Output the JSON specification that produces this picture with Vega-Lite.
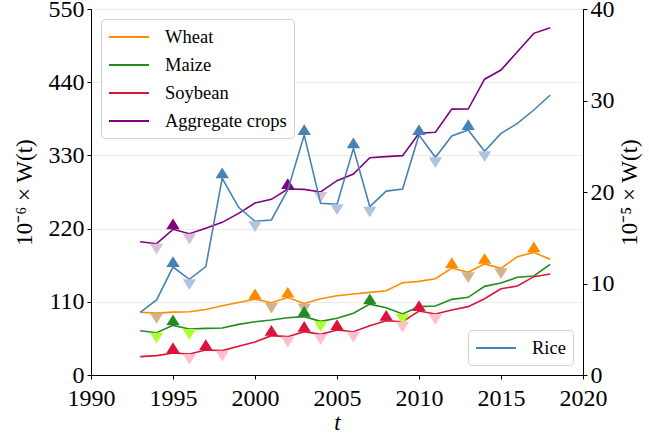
{
  "$schema": "https://vega.github.io/schema/vega-lite/v6.json",
  "width": 492,
  "height": 366,
  "autosize": {"type": "none"},
  "padding": {"left": 91, "top": 9, "right": 66, "bottom": 60},
  "background": "white",
  "config": {
    "font": "Liberation Serif",
    "view": {"stroke": "black", "strokeWidth": 1},
    "axis": {
      "labelFont": "Liberation Serif", "titleFont": "Liberation Serif",
      "labelFontSize": 24, "labelColor": "black",
      "domainColor": "black", "tickColor": "black", "tickSize": 4,
      "titleFontSize": 23, "titleFontWeight": "normal", "titleColor": "black",
      "labelPadding": 3, "labelFlush": false, "labelOverlap": false
    },
    "legend": {
      "labelFont": "Liberation Serif", "labelFontSize": 18.5, "labelColor": "black",
      "symbolType": "M-1,0L3,0", "symbolSize": 400, "symbolStrokeWidth": 2,
      "fillColor": "rgba(255,255,255,0.85)", "strokeColor": "#d0d0d0", "cornerRadius": 4,
      "padding": 7, "offset": 10, "labelOffset": 35, "rowPadding": 7
    }
  },
  "datasets": {
    "left": [
      {"year": 1993, "crop": "Wheat", "value": 94.2, "ext": ""},
      {"year": 1994, "crop": "Wheat", "value": 93.0, "ext": "trough"},
      {"year": 1995, "crop": "Wheat", "value": 94.5, "ext": ""},
      {"year": 1996, "crop": "Wheat", "value": 95.0, "ext": ""},
      {"year": 1997, "crop": "Wheat", "value": 98.5, "ext": ""},
      {"year": 1998, "crop": "Wheat", "value": 104.0, "ext": ""},
      {"year": 1999, "crop": "Wheat", "value": 109.0, "ext": ""},
      {"year": 2000, "crop": "Wheat", "value": 114.0, "ext": "peak"},
      {"year": 2001, "crop": "Wheat", "value": 108.7, "ext": "trough"},
      {"year": 2002, "crop": "Wheat", "value": 116.5, "ext": "peak"},
      {"year": 2003, "crop": "Wheat", "value": 107.5, "ext": "trough"},
      {"year": 2004, "crop": "Wheat", "value": 114.5, "ext": ""},
      {"year": 2005, "crop": "Wheat", "value": 119.0, "ext": ""},
      {"year": 2006, "crop": "Wheat", "value": 121.7, "ext": ""},
      {"year": 2007, "crop": "Wheat", "value": 124.2, "ext": ""},
      {"year": 2008, "crop": "Wheat", "value": 126.7, "ext": ""},
      {"year": 2009, "crop": "Wheat", "value": 138.7, "ext": ""},
      {"year": 2010, "crop": "Wheat", "value": 140.7, "ext": ""},
      {"year": 2011, "crop": "Wheat", "value": 144.7, "ext": ""},
      {"year": 2012, "crop": "Wheat", "value": 160.8, "ext": "peak"},
      {"year": 2013, "crop": "Wheat", "value": 154.3, "ext": "trough"},
      {"year": 2014, "crop": "Wheat", "value": 167.0, "ext": "peak"},
      {"year": 2015, "crop": "Wheat", "value": 160.3, "ext": "trough"},
      {"year": 2016, "crop": "Wheat", "value": 177.8, "ext": ""},
      {"year": 2017, "crop": "Wheat", "value": 184.3, "ext": "peak"},
      {"year": 2018, "crop": "Wheat", "value": 173.8, "ext": ""},

      {"year": 1993, "crop": "Maize", "value": 66.6, "ext": ""},
      {"year": 1994, "crop": "Maize", "value": 63.6, "ext": "trough"},
      {"year": 1995, "crop": "Maize", "value": 74.6, "ext": "peak"},
      {"year": 1996, "crop": "Maize", "value": 69.1, "ext": "trough"},
      {"year": 1997, "crop": "Maize", "value": 70.1, "ext": ""},
      {"year": 1998, "crop": "Maize", "value": 70.6, "ext": ""},
      {"year": 1999, "crop": "Maize", "value": 76.1, "ext": ""},
      {"year": 2000, "crop": "Maize", "value": 80.1, "ext": ""},
      {"year": 2001, "crop": "Maize", "value": 82.6, "ext": ""},
      {"year": 2002, "crop": "Maize", "value": 86.1, "ext": ""},
      {"year": 2003, "crop": "Maize", "value": 87.7, "ext": "peak"},
      {"year": 2004, "crop": "Maize", "value": 80.6, "ext": "trough"},
      {"year": 2005, "crop": "Maize", "value": 85.2, "ext": ""},
      {"year": 2006, "crop": "Maize", "value": 92.7, "ext": ""},
      {"year": 2007, "crop": "Maize", "value": 106.5, "ext": "peak"},
      {"year": 2008, "crop": "Maize", "value": 101.2, "ext": ""},
      {"year": 2009, "crop": "Maize", "value": 91.7, "ext": "trough"},
      {"year": 2010, "crop": "Maize", "value": 102.7, "ext": ""},
      {"year": 2011, "crop": "Maize", "value": 103.7, "ext": ""},
      {"year": 2012, "crop": "Maize", "value": 113.7, "ext": ""},
      {"year": 2013, "crop": "Maize", "value": 116.7, "ext": ""},
      {"year": 2014, "crop": "Maize", "value": 133.2, "ext": ""},
      {"year": 2015, "crop": "Maize", "value": 138.2, "ext": ""},
      {"year": 2016, "crop": "Maize", "value": 146.8, "ext": ""},
      {"year": 2017, "crop": "Maize", "value": 148.8, "ext": ""},
      {"year": 2018, "crop": "Maize", "value": 166.3, "ext": ""},

      {"year": 1993, "crop": "Soybean", "value": 27.6, "ext": ""},
      {"year": 1994, "crop": "Soybean", "value": 29.1, "ext": ""},
      {"year": 1995, "crop": "Soybean", "value": 33.1, "ext": "peak"},
      {"year": 1996, "crop": "Soybean", "value": 31.6, "ext": "trough"},
      {"year": 1997, "crop": "Soybean", "value": 37.6, "ext": "peak"},
      {"year": 1998, "crop": "Soybean", "value": 36.6, "ext": "trough"},
      {"year": 1999, "crop": "Soybean", "value": 43.1, "ext": ""},
      {"year": 2000, "crop": "Soybean", "value": 49.5, "ext": ""},
      {"year": 2001, "crop": "Soybean", "value": 59.1, "ext": "peak"},
      {"year": 2002, "crop": "Soybean", "value": 57.6, "ext": "trough"},
      {"year": 2003, "crop": "Soybean", "value": 65.1, "ext": "peak"},
      {"year": 2004, "crop": "Soybean", "value": 61.1, "ext": "trough"},
      {"year": 2005, "crop": "Soybean", "value": 67.6, "ext": "peak"},
      {"year": 2006, "crop": "Soybean", "value": 65.1, "ext": "trough"},
      {"year": 2007, "crop": "Soybean", "value": 74.0, "ext": ""},
      {"year": 2008, "crop": "Soybean", "value": 81.6, "ext": "peak"},
      {"year": 2009, "crop": "Soybean", "value": 80.1, "ext": "trough"},
      {"year": 2010, "crop": "Soybean", "value": 96.2, "ext": "peak"},
      {"year": 2011, "crop": "Soybean", "value": 91.7, "ext": "trough"},
      {"year": 2012, "crop": "Soybean", "value": 97.7, "ext": ""},
      {"year": 2013, "crop": "Soybean", "value": 102.7, "ext": ""},
      {"year": 2014, "crop": "Soybean", "value": 114.7, "ext": ""},
      {"year": 2015, "crop": "Soybean", "value": 129.5, "ext": ""},
      {"year": 2016, "crop": "Soybean", "value": 133.7, "ext": ""},
      {"year": 2017, "crop": "Soybean", "value": 147.8, "ext": ""},
      {"year": 2018, "crop": "Soybean", "value": 151.8, "ext": ""},

      {"year": 1993, "crop": "Aggregate crops", "value": 200.3, "ext": ""},
      {"year": 1994, "crop": "Aggregate crops", "value": 197.3, "ext": "trough"},
      {"year": 1995, "crop": "Aggregate crops", "value": 218.9, "ext": "peak"},
      {"year": 1996, "crop": "Aggregate crops", "value": 212.4, "ext": "trough"},
      {"year": 1997, "crop": "Aggregate crops", "value": 220.4, "ext": ""},
      {"year": 1998, "crop": "Aggregate crops", "value": 229.4, "ext": ""},
      {"year": 1999, "crop": "Aggregate crops", "value": 242.9, "ext": ""},
      {"year": 2000, "crop": "Aggregate crops", "value": 258.5, "ext": ""},
      {"year": 2001, "crop": "Aggregate crops", "value": 264.0, "ext": ""},
      {"year": 2002, "crop": "Aggregate crops", "value": 279.5, "ext": "peak"},
      {"year": 2003, "crop": "Aggregate crops", "value": 279.0, "ext": ""},
      {"year": 2004, "crop": "Aggregate crops", "value": 275.0, "ext": "trough"},
      {"year": 2005, "crop": "Aggregate crops", "value": 292.0, "ext": ""},
      {"year": 2006, "crop": "Aggregate crops", "value": 302.0, "ext": ""},
      {"year": 2007, "crop": "Aggregate crops", "value": 326.5, "ext": ""},
      {"year": 2008, "crop": "Aggregate crops", "value": 328.1, "ext": ""},
      {"year": 2009, "crop": "Aggregate crops", "value": 329.6, "ext": ""},
      {"year": 2010, "crop": "Aggregate crops", "value": 363.2, "ext": ""},
      {"year": 2011, "crop": "Aggregate crops", "value": 364.7, "ext": ""},
      {"year": 2012, "crop": "Aggregate crops", "value": 399.5, "ext": ""},
      {"year": 2013, "crop": "Aggregate crops", "value": 399.7, "ext": ""},
      {"year": 2014, "crop": "Aggregate crops", "value": 444.5, "ext": ""},
      {"year": 2015, "crop": "Aggregate crops", "value": 458.3, "ext": ""},
      {"year": 2016, "crop": "Aggregate crops", "value": 485.8, "ext": ""},
      {"year": 2017, "crop": "Aggregate crops", "value": 513.4, "ext": ""},
      {"year": 2018, "crop": "Aggregate crops", "value": 521.9, "ext": ""}
    ],
    "rice": [
      {"year": 1993, "crop": "Rice", "value": 6.85, "ext": ""},
      {"year": 1994, "crop": "Rice", "value": 8.2, "ext": ""},
      {"year": 1995, "crop": "Rice", "value": 11.8, "ext": "peak"},
      {"year": 1996, "crop": "Rice", "value": 10.46, "ext": "trough"},
      {"year": 1997, "crop": "Rice", "value": 11.84, "ext": ""},
      {"year": 1998, "crop": "Rice", "value": 21.5, "ext": "peak"},
      {"year": 1999, "crop": "Rice", "value": 18.33, "ext": ""},
      {"year": 2000, "crop": "Rice", "value": 16.8, "ext": "trough"},
      {"year": 2001, "crop": "Rice", "value": 16.94, "ext": ""},
      {"year": 2002, "crop": "Rice", "value": 20.22, "ext": ""},
      {"year": 2003, "crop": "Rice", "value": 26.23, "ext": "peak"},
      {"year": 2004, "crop": "Rice", "value": 18.76, "ext": ""},
      {"year": 2005, "crop": "Rice", "value": 18.65, "ext": "trough"},
      {"year": 2006, "crop": "Rice", "value": 24.77, "ext": "peak"},
      {"year": 2007, "crop": "Rice", "value": 18.4, "ext": "trough"},
      {"year": 2008, "crop": "Rice", "value": 20.1, "ext": ""},
      {"year": 2009, "crop": "Rice", "value": 20.33, "ext": ""},
      {"year": 2010, "crop": "Rice", "value": 26.23, "ext": "peak"},
      {"year": 2011, "crop": "Rice", "value": 23.79, "ext": "trough"},
      {"year": 2012, "crop": "Rice", "value": 26.12, "ext": ""},
      {"year": 2013, "crop": "Rice", "value": 26.78, "ext": "peak"},
      {"year": 2014, "crop": "Rice", "value": 24.45, "ext": "trough"},
      {"year": 2015, "crop": "Rice", "value": 26.4, "ext": ""},
      {"year": 2016, "crop": "Rice", "value": 27.5, "ext": ""},
      {"year": 2017, "crop": "Rice", "value": 28.96, "ext": ""},
      {"year": 2018, "crop": "Rice", "value": 30.6, "ext": ""}
    ]
  },
  "encoding": {
    "x": {
      "field": "year", "type": "quantitative",
      "scale": {"domain": [1990, 2020], "nice": false, "zero": false},
      "axis": {"values": [1990, 1995, 2000, 2005, 2010, 2015, 2020], "format": "d", "title": "t", "titleFontStyle": "italic", "titleFontSize": 23, "grid": false, "titlePadding": 1, "labelPadding": 7}
    }
  },
  "layer": [
    {
      "data": {"name": "left"},
      "encoding": {
        "y": {
          "field": "value", "type": "quantitative",
          "scale": {"domain": [0, 550], "nice": false},
          "axis": {"values": [0, 110, 220, 330, 440, 550], "title": "10⁻⁶ × W(t)", "grid": true, "gridColor": "#ebebeb", "gridWidth": 1, "titlePadding": 12}
        }
      },
      "layer": [
        {
          "mark": {"type": "line", "strokeWidth": 1.6},
          "encoding": {
            "color": {
              "field": "crop", "type": "nominal",
              "scale": {"domain": ["Wheat", "Maize", "Soybean", "Aggregate crops"], "range": ["#ff8c00", "#228b22", "#dc143c", "#800080"]},
              "legend": {"title": null, "orient": "top-left"}
            }
          }
        },
        {
          "transform": [{"filter": "datum.ext === 'trough'"}],
          "mark": {"type": "point", "filled": true, "shape": "M-1,0L1,0L0,1.6Z", "size": 180, "opacity": 1, "strokeWidth": 0},
          "encoding": {
            "fill": {
              "field": "crop", "type": "nominal",
              "scale": {"domain": ["Wheat", "Maize", "Soybean", "Aggregate crops"], "range": ["#d2b48c", "#adff2f", "#ffc0cb", "#d8bfd8"]},
              "legend": null
            }
          }
        },
        {
          "transform": [{"filter": "datum.ext === 'peak'"}],
          "mark": {"type": "point", "filled": true, "shape": "M-1,0L1,0L0,-1.6Z", "size": 180, "opacity": 1, "strokeWidth": 0},
          "encoding": {
            "color": {"field": "crop", "type": "nominal", "legend": null}
          }
        }
      ]
    },
    {
      "data": {"name": "rice"},
      "encoding": {
        "y": {
          "field": "value", "type": "quantitative",
          "scale": {"domain": [0, 40], "nice": false},
          "axis": {"orient": "right", "values": [0, 10, 20, 30, 40], "title": "10⁻⁵ × W(t)", "titleAngle": 270, "titleBaseline": "top", "grid": false, "titlePadding": 4}
        }
      },
      "layer": [
        {
          "mark": {"type": "line", "strokeWidth": 1.6},
          "encoding": {
            "color": {
              "field": "crop", "type": "nominal",
              "scale": {"domain": ["Rice"], "range": ["#4682b4"]},
              "legend": {"title": null, "orient": "bottom-right"}
            }
          }
        },
        {
          "transform": [{"filter": "datum.ext === 'trough'"}],
          "mark": {"type": "point", "filled": true, "shape": "M-1,0L1,0L0,1.6Z", "size": 180, "opacity": 1, "strokeWidth": 0},
          "encoding": {
            "fill": {
              "field": "crop", "type": "nominal",
              "scale": {"domain": ["Rice"], "range": ["#b0c4de"]},
              "legend": null
            }
          }
        },
        {
          "transform": [{"filter": "datum.ext === 'peak'"}],
          "mark": {"type": "point", "filled": true, "shape": "M-1,0L1,0L0,-1.6Z", "size": 180, "opacity": 1, "strokeWidth": 0},
          "encoding": {
            "color": {"field": "crop", "type": "nominal", "legend": null}
          }
        }
      ]
    }
  ],
  "resolve": {"scale": {"y": "independent", "color": "independent", "fill": "independent"}}
}
